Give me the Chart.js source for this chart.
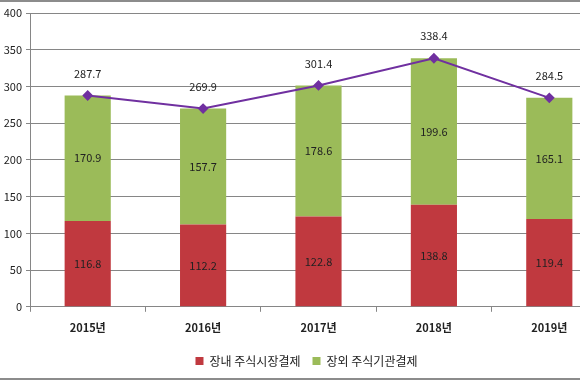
<!DOCTYPE html>
<html>
<head>
<meta charset="utf-8">
<script src="https://cdn.jsdelivr.net/npm/chart.js@4.4.0/dist/chart.umd.min.js"></script>
<style>
    html, body { margin: 0; padding: 0; background: #fff; }
    #wrap {
        width: 580px; height: 380px; overflow: hidden; position: relative;
        box-sizing: border-box; border-top: 2px solid #8c8c8c; border-bottom: 2px solid #8c8c8c;
    }
    #box { position: absolute; left: 0; top: 0; width: 613px; height: 376px; }
</style>
</head>
<body>
<div id="wrap"><div id="box"><canvas id="chart"></canvas></div></div>
<script>
    // Data
    var years = ["2015년", "2016년", "2017년", "2018년", "2019년"];
    var onMarket = [116.8, 112.2, 122.8, 138.8, 119.4];
    var offMarket = [170.9, 157.7, 178.6, 199.6, 165.1];
    var totals = [287.7, 269.9, 301.4, 338.4, 284.5];
    var yTicks = [0, 50, 100, 150, 200, 250, 300, 350, 400];

    var font = "'Noto Sans CJK KR', 'Noto Sans', sans-serif";

    // value labels drawn at element positions
    var valueLabels = {
        id: 'valueLabels',
        afterDatasetsDraw: function (chart) {
            var ctx = chart.ctx;
            ctx.save();
            ctx.font = "11px " + font;
            ctx.fillStyle = "#222";
            ctx.textAlign = "center";
            ctx.textBaseline = "middle";
            chart.data.datasets.forEach(function (ds, i) {
                var meta = chart.getDatasetMeta(i);
                meta.data.forEach(function (el, j) {
                    var txt = ds.data[j].toFixed(1);
                    if (ds.type === 'line') {
                        ctx.fillText(txt, el.x, el.y - 22);
                    } else {
                        ctx.fillText(txt, el.x, (el.y + el.base) / 2);
                    }
                });
            });
            ctx.restore();
        }
    };

    new Chart(document.getElementById("chart"), {
        data: {
            labels: years,
            datasets: [{
                type: "line",
                label: "합계",
                data: totals,
                stack: "total",
                borderColor: "#7030A0",
                backgroundColor: "#7030A0",
                borderWidth: 2,
                pointStyle: "rectRot",
                pointRadius: 4,
                pointHoverRadius: 4,
                fill: false,
                order: 0
            },
            {
                type: "bar",
                label: "장내 주식시장결제",
                data: onMarket,
                stack: "s",
                backgroundColor: "#C0393F",
                barPercentage: 0.4,
                categoryPercentage: 1,
                order: 1
            },
            {
                type: "bar",
                label: "장외 주식기관결제",
                data: offMarket,
                stack: "s",
                backgroundColor: "#9BBB59",
                barPercentage: 0.4,
                categoryPercentage: 1,
                order: 1
            }]
        },
        options: {
            responsive: true,
            maintainAspectRatio: false,
            animation: false,
            layout: { padding: { top: 11, left: 0, right: 0, bottom: 1 } },
            plugins: {
                legend: {
                    position: "bottom",
                    labels: {
                        font: { family: font, size: 12 },
                        color: "#222",
                        boxWidth: 8,
                        boxHeight: 8,
                        padding: 12,
                        filter: function (item) { return item.datasetIndex > 0; }
                    }
                },
                tooltip: { enabled: false }
            },
            scales: {
                x: {
                    stacked: true,
                    offset: true,
                    grid: { display: true, drawOnChartArea: false, drawTicks: true, tickLength: 5, color: "#868686", offset: true },
                    border: { color: "#868686" },
                    ticks: { font: { family: font, size: 11, weight: "bold" }, color: "#222", padding: 9 }
                },
                y: {
                    stacked: true,
                    min: 0,
                    max: 400,
                    afterBuildTicks: function (axis) {
                        axis.ticks = yTicks.map(function (v) { return { value: v }; });
                    },
                    afterFit: function (axis) { axis.width = 30; },
                    grid: { color: "#868686", tickLength: 4 },
                    border: { color: "#868686" },
                    ticks: { font: { family: font, size: 11 }, color: "#222", padding: 4 }
                }
            }
        },
        plugins: [valueLabels]
    });
</script>
</body>
</html>
